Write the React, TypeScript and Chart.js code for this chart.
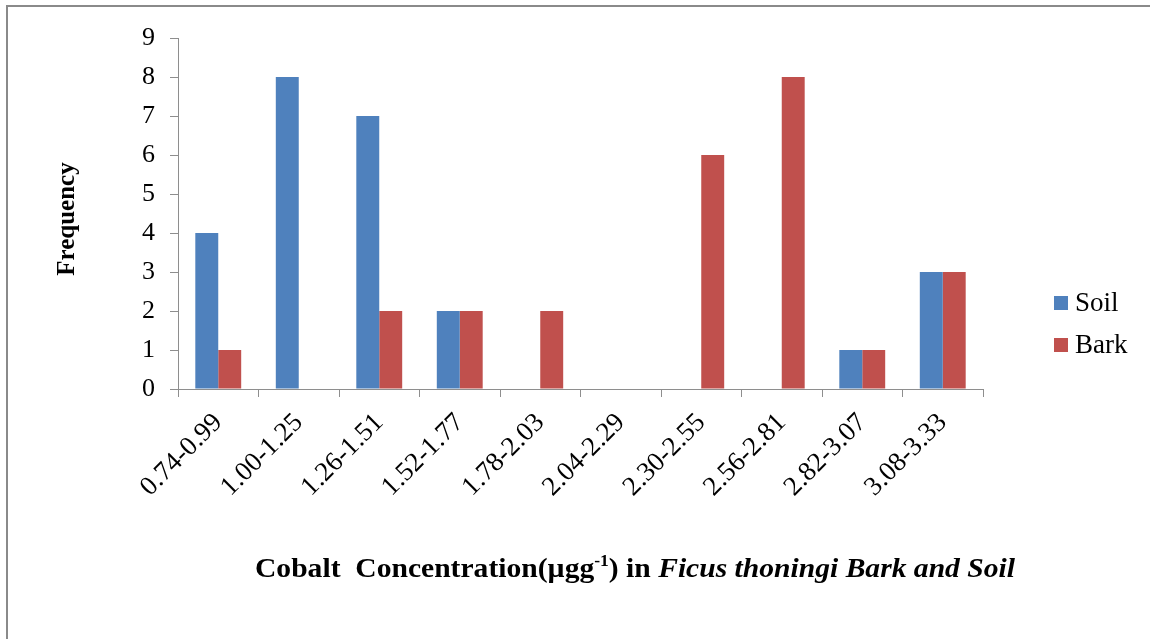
import React, { useEffect, useRef } from "react";
import { Chart, registerables } from "chart.js";

Chart.register(...registerables);

const categories = [
  "0.74-0.99", "1.00-1.25", "1.26-1.51", "1.52-1.77", "1.78-2.03",
  "2.04-2.29", "2.30-2.55", "2.56-2.81", "2.82-3.07", "3.08-3.33",
];
const soilValues = [4, 8, 7, 2, 0, 0, 0, 0, 1, 3];
const barkValues = [1, 0, 2, 2, 2, 0, 6, 8, 1, 3];
const seriesNames = ["Soil", "Bark"];
const seriesColors = ["#4F81BD", "#C0504D"];
const yTitle = "Frequency";

const SERIF = "'Liberation Serif', 'Times New Roman', serif";

const decorPlugin = {
  id: "decor",
  afterDraw(chart: any) {
    const ctx = chart.ctx as CanvasRenderingContext2D;
    const W = chart.width;
    const H = chart.height;
    ctx.save();
    // frame
    ctx.strokeStyle = "#8a8a8a";
    ctx.lineWidth = 2;
    ctx.beginPath();
    ctx.moveTo(7, H + 2);
    ctx.lineTo(7, 6);
    ctx.lineTo(W + 2, 6);
    ctx.stroke();

    // y title
    ctx.fillStyle = "#000";
    ctx.font = `bold 25px ${SERIF}`;
    ctx.textAlign = "center";
    ctx.textBaseline = "middle";
    ctx.translate(68, 219);
    ctx.rotate(-Math.PI / 2);
    ctx.fillText(yTitle, 0, 0);
    ctx.restore();

    // x title with mixed styles
    ctx.save();
    const parts: { t: string; f: string; sup?: boolean }[] = [
      { t: "Cobalt  Concentration(\u00B5gg", f: `bold 27px ${SERIF}` },
      { t: "-1", f: `bold 16px ${SERIF}`, sup: true },
      { t: ") in ", f: `bold 27px ${SERIF}` },
      { t: "Ficus thoningi Bark and Soil", f: `italic bold 27px ${SERIF}` },
    ];
    let total = 0;
    for (const p of parts) {
      ctx.font = p.f;
      total += ctx.measureText(p.t).width;
    }
    const targetW = 760;
    const sx = targetW / total;
    ctx.translate(255, 577);
    ctx.scale(sx, 1);
    ctx.fillStyle = "#000";
    ctx.textAlign = "left";
    ctx.textBaseline = "alphabetic";
    let x = 0;
    for (const p of parts) {
      ctx.font = p.f;
      ctx.fillText(p.t, x, p.sup ? -11 : 0);
      x += ctx.measureText(p.t).width;
    }
    ctx.restore();

    // legend
    ctx.save();
    const ys = [303, 345];
    chart.data.datasets.forEach((ds: any, i: number) => {
      ctx.fillStyle = ds.backgroundColor;
      ctx.fillRect(1054, ys[i] - 7, 14, 14);
      ctx.fillStyle = "#000";
      ctx.font = `27px ${SERIF}`;
      ctx.textAlign = "left";
      ctx.textBaseline = "middle";
      ctx.fillText(ds.label, 1075, ys[i] + 1);
    });
    ctx.restore();
  },
};

export default function App() {
  const ref = useRef<HTMLCanvasElement | null>(null);
  useEffect(() => {
    document.body.style.margin = "0";
    const canvas = ref.current!;
    const chart = new Chart(canvas, {
      type: "bar",
      data: {
        labels: categories,
        datasets: [
          { label: seriesNames[0], data: soilValues, backgroundColor: seriesColors[0] },
          { label: seriesNames[1], data: barkValues, backgroundColor: seriesColors[1] },
        ],
      },
      options: {
        responsive: false,
        animation: false,
        layout: { padding: { left: 0, top: 38, right: 1150 - 983, bottom: 0 } },
        datasets: { bar: { categoryPercentage: 0.57, barPercentage: 1.0 } } as any,
        plugins: { legend: { display: false }, tooltip: { enabled: false } },
        scales: {
          x: {
            grid: {
              offset: true,
              drawOnChartArea: false,
              color: "#8e8e8e",
              tickLength: 8,
            },
            border: { color: "#8e8e8e", width: 1 },
            ticks: {
              color: "#000",
              font: { family: SERIF, size: 27 },
              maxRotation: 45,
              minRotation: 45,
              padding: 10,
              autoSkip: false,
            },
            afterFit(scale: any) {
              scale.height = 639 - 389;
            },
          },
          y: {
            min: 0,
            max: 9,
            grid: { drawOnChartArea: false, color: "#8e8e8e", tickLength: 8 },
            border: { color: "#8e8e8e", width: 1 },
            ticks: {
              stepSize: 1,
              color: "#000",
              font: { family: SERIF, size: 26 },
              padding: 15,
            },
            afterFit(scale: any) {
              scale.width = 178;
            },
          },
        },
      },
      plugins: [decorPlugin],
    });
    return () => chart.destroy();
  }, []);
  return <canvas ref={ref} width={1150} height={639} style={{ display: "block" }} />;
}
